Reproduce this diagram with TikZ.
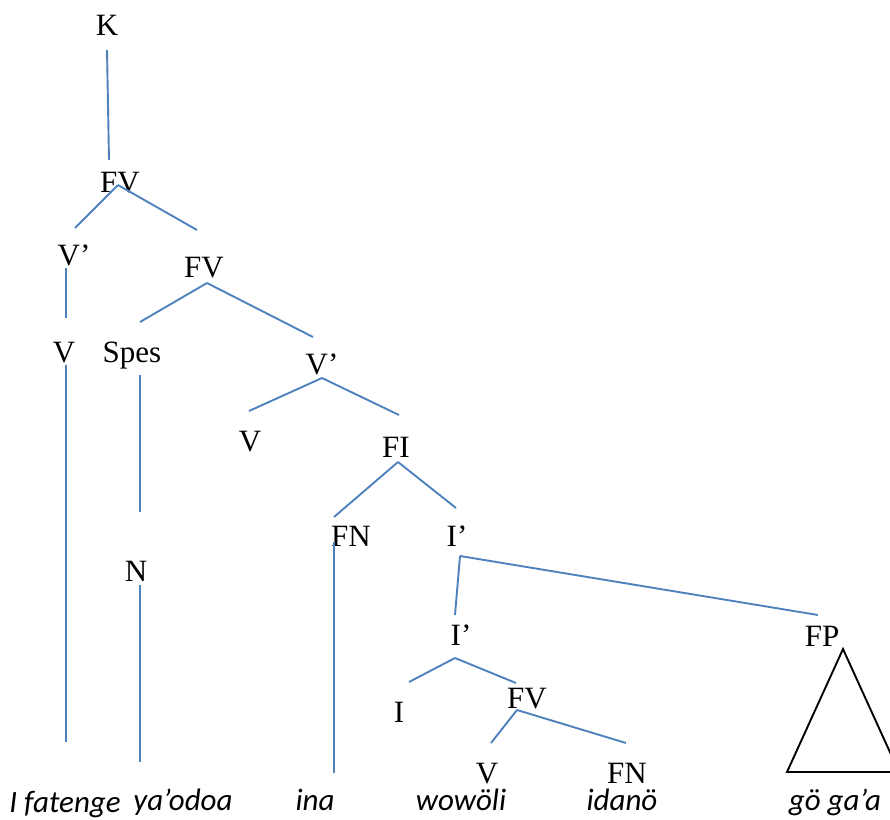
\documentclass[tikz,border=0pt]{standalone}
\usepackage{fontspec}
\setmainfont{Liberation Serif}
\newfontfamily\wordfont{Carlito}
\definecolor{treeblue}{RGB}{79,129,189}
\tikzset{
  cat/.style={anchor=base,inner sep=0pt,font=\fontsize{31}{34}\selectfont},
  word/.style={anchor=base,inner sep=0pt,font=\wordfont\itshape\fontsize{31}{34}\selectfont},
  branch/.style={draw=treeblue,line width=1.9pt}
}
\begin{document}
\begin{tikzpicture}[x=1pt,y=-1pt]
      \useasboundingbox (0,0) rectangle (890,819);
      \draw
        (107,35) node[cat] (K){K}
        (120,192) node[cat] (FVa){FV}
        (74,265) node[cat] (Vbara){V’}
        (64,362) node[cat] (Va){V}
        (204,277) node[cat] (FVb){FV}
        (132,362) node[cat] (Spes){Spes}
        (136,581) node[cat] (N){N}
        (322,374) node[cat] (Vbarb){V’}
        (250,451) node[cat] (Vb){V}
        (396,457) node[cat] (FI){FI}
        (351,546) node[cat] (FNa){FN}
        (457,546) node[cat] (Ibara){I’}
        (461,645) node[cat] (Ibarb){I’}
        (822,646) node[cat] (FP){FP}
        (399,722) node[cat] (I){I}
        (527,708) node[cat] (FVc){FV}
        (487,783) node[cat] (Vc){V}
        (627,783) node[cat] (FNb){FN};
      \draw
        (65,812) node[word] (w1){I fatenge}
        (183,810) node[word] (w2){ya’odoa}
        (315,810) node[word] (w3){ina}
        (461,810) node[word] (w4){wowöli}
        (622,810) node[word] (w5){idanö}
        (835,810) node[word] (w6){gö ga’a};
      % branch ends
      \coordinate (k1) at (107,50);    \coordinate (k2) at (109,160);
      \coordinate (fa) at (118,185);
      \coordinate (fa1) at (75,228);   \coordinate (fa2) at (197,230);
      \coordinate (va1) at (66,268);   \coordinate (va2) at (66,318);
      \coordinate (va3) at (66,365);   \coordinate (va4) at (66,742);
      \coordinate (fb) at (207,283);
      \coordinate (fb1) at (140,322);  \coordinate (fb2) at (313,337);
      \coordinate (sp1) at (140,375);  \coordinate (sp2) at (140,512);
      \coordinate (n1) at (140,585);   \coordinate (n2) at (140,762);
      \coordinate (vb) at (322,378);
      \coordinate (vb1) at (249,411);  \coordinate (vb2) at (399,415);
      \coordinate (fi) at (398,462);
      \coordinate (fi1) at (334,517);  \coordinate (fi2) at (456,508);
      \coordinate (fn1) at (334,542);  \coordinate (fn2) at (334,773);
      \coordinate (ia) at (460,556);
      \coordinate (ia1) at (455,615);  \coordinate (ia2) at (818,615);
      \coordinate (ib) at (455,658);
      \coordinate (ib1) at (409,682);  \coordinate (ib2) at (516,683);
      \coordinate (fc) at (517,710);
      \coordinate (fc1) at (491,743);  \coordinate (fc2) at (626,743);
      \begin{scope}[branch]
        \draw (k1) to (k2);
        \draw (fa) to (fa1);
        \draw (fa) to (fa2);
        \draw (va1) to (va2);
        \draw (va3) to (va4);
        \draw (fb) to (fb1);
        \draw (fb) to (fb2);
        \draw (sp1) to (sp2);
        \draw (n1) to (n2);
        \draw (vb) to (vb1);
        \draw (vb) to (vb2);
        \draw (fi) to (fi1);
        \draw (fi) to (fi2);
        \draw (fn1) to (fn2);
        \draw (ia) to (ia1);
        \draw (ia) to (ia2);
        \draw (ib) to (ib1);
        \draw (ib) to (ib2);
        \draw (fc) to (fc1);
        \draw (fc) to (fc2);
      \end{scope}
      % roof over gö ga'a
      \draw[line width=1.9pt,line join=miter] (843,649) -- (787,772) -- (899,772) -- cycle;
    \end{tikzpicture}
\end{document}
